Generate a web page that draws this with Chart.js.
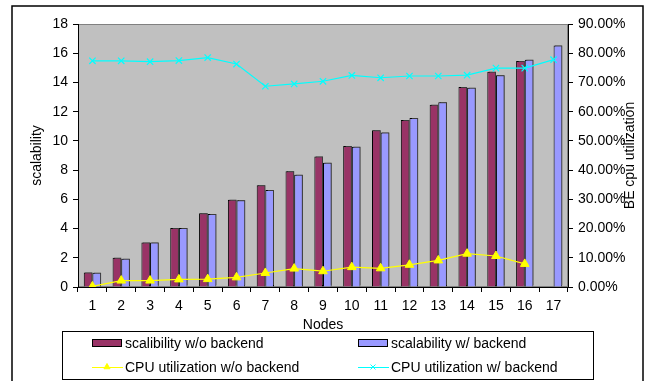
<!DOCTYPE html>
<html>
<head>
<meta charset="utf-8">
<script src="https://cdn.jsdelivr.net/npm/chart.js@4/dist/chart.umd.min.js"></script>
<style>
  html, body { margin: 0; padding: 0; background: #fff; }
  canvas { display: block; }
</style>
</head>
<body>
<canvas id="c" width="645" height="381"></canvas>
<script>
// Node counts along the x axis
const nodes = ['1','2','3','4','5','6','7','8','9','10','11','12','13','14','15','16','17'];

// Scalability (left axis)
const scalabilityWithout = [1.0, 2.0, 3.05, 4.03, 5.05, 5.97, 6.97, 7.93, 8.93, 9.65, 10.72, 11.43, 12.47, 13.68, 14.74, 15.46, null];
const scalabilityWith    = [0.98, 1.93, 3.05, 4.03, 5.0, 5.93, 6.64, 7.69, 8.5, 9.6, 10.58, 11.56, 12.65, 13.63, 14.49, 15.56, 16.52];

// BE CPU utilization in percent (right axis)
const cpuWithout = [0.2, 2.2, 2.2, 2.6, 2.7, 3.3, 4.8, 6.3, 5.4, 6.8, 6.4, 7.6, 9.1, 11.4, 10.6, 7.9, null];
const cpuWith    = [77.4, 77.4, 77.1, 77.5, 78.5, 76.3, 68.7, 69.5, 70.4, 72.4, 71.6, 72.2, 72.2, 72.5, 74.9, 74.9, 77.8];

// Axis tick values
const leftTicks  = [0, 2, 4, 6, 8, 10, 12, 14, 16, 18];
const rightTicks = [0, 10, 20, 30, 40, 50, 60, 70, 80, 90];

const seriesLabels = ['scalibility w/o backend', 'scalability w/ backend', 'CPU utilization w/o backend', 'CPU utilization w/ backend'];

const FONT = "'Liberation Sans', Arial, sans-serif";
const FONT_SIZE = 14;

// Background, plot fill, outer frame, axis titles and boxed legend
const decorPlugin = {
  id: 'decor',
  beforeDraw(chart) {
    const { ctx, chartArea: a } = chart;
    ctx.save();
    ctx.fillStyle = '#fff';
    ctx.fillRect(0, 0, chart.width, chart.height);
    ctx.fillStyle = '#C0C0C0';
    ctx.fillRect(a.left, a.top, a.right - a.left, a.bottom - a.top);
    ctx.strokeStyle = '#808080';
    ctx.lineWidth = 1;
    ctx.strokeRect(a.left + 0.5, a.top + 0.5, a.right - a.left - 1, a.bottom - a.top - 1);
    ctx.restore();
  },
  afterDraw(chart) {
    const { ctx, chartArea: a } = chart;
    ctx.save();
    // outer frame
    ctx.strokeStyle = '#000';
    ctx.lineWidth = 1.5;
    ctx.strokeRect(12, 6, 631, 380);

    ctx.fillStyle = '#000';
    ctx.font = FONT_SIZE + 'px ' + FONT;
    ctx.textAlign = 'center';
    ctx.textBaseline = 'middle';
    const midY = (a.top + a.bottom) / 2;
    // left axis title
    ctx.save();
    ctx.translate(37, midY);
    ctx.rotate(-Math.PI / 2);
    ctx.fillText('scalability', 0, 0);
    ctx.restore();
    // right axis title
    ctx.save();
    ctx.translate(630, midY);
    ctx.rotate(-Math.PI / 2);
    ctx.fillText('BE cpu utilization', 0, 0);
    ctx.restore();
    // x axis title
    ctx.fillText('Nodes', 323, 325);

    // legend box
    ctx.lineWidth = 1;
    ctx.strokeStyle = '#000';
    ctx.strokeRect(62.5, 331.5, 531, 48);
    const ds = chart.data.datasets;
    const cols = [92, 358];
    const rows = [343, 367];
    ctx.textAlign = 'left';
    ds.forEach((d, i) => {
      const x = cols[i % 2];
      const y = rows[Math.floor(i / 2)];
      if (d.type === 'bar') {
        ctx.fillStyle = d.backgroundColor;
        ctx.fillRect(x, y - 3, 30, 6);
        ctx.strokeStyle = '#000';
        ctx.strokeRect(x + 0.5, y - 3.5, 29, 7);
      } else {
        ctx.strokeStyle = d.borderColor;
        ctx.lineWidth = 1;
        ctx.beginPath();
        ctx.moveTo(x, y + 0.5);
        ctx.lineTo(x + 31, y + 0.5);
        ctx.stroke();
        ctx.fillStyle = d.pointBackgroundColor;
        ctx.strokeStyle = d.pointBorderColor;
        Chart.helpers.drawPoint(ctx, { pointStyle: d.pointStyle, radius: 3.5, borderWidth: 1 }, x + 15, y);
      }
      ctx.fillStyle = '#000';
      ctx.fillText(d.label, x + 33, y + 1);
    });
    ctx.restore();
  }
};

// Dark shadow behind the bars
const barShadowPlugin = {
  id: 'barShadow',
  beforeDatasetDraw(chart, args) {
    if (chart.data.datasets[args.index].type !== 'bar') return;
    const ctx = chart.ctx;
    ctx.save();
    ctx.shadowColor = 'rgba(70,70,70,0.85)';
    ctx.shadowOffsetX = 1.5;
    ctx.shadowOffsetY = -1.5;
    ctx.shadowBlur = 0;
  },
  afterDatasetDraw(chart, args) {
    if (chart.data.datasets[args.index].type !== 'bar') return;
    chart.ctx.restore();
  }
};

const tickFont = { family: FONT, size: FONT_SIZE };

new Chart(document.getElementById('c'), {
  data: {
    labels: nodes,
    datasets: [
      {
        type: 'bar', label: seriesLabels[0], data: scalabilityWithout, yAxisID: 'y',
        backgroundColor: '#993366', borderColor: '#000', borderWidth: 1, order: 2,
        categoryPercentage: 0.6, barPercentage: 1.0
      },
      {
        type: 'bar', label: seriesLabels[1], data: scalabilityWith, yAxisID: 'y',
        backgroundColor: '#9999FF', borderColor: '#000', borderWidth: 1, order: 2,
        categoryPercentage: 0.6, barPercentage: 1.0
      },
      {
        type: 'line', label: seriesLabels[2], data: cpuWithout, yAxisID: 'y2',
        borderColor: '#FFFF00', borderWidth: 1.2, pointStyle: 'triangle', pointRadius: 5,
        pointBackgroundColor: '#FFFF00', pointBorderColor: '#FFFF00', pointBorderWidth: 1,
        tension: 0, order: 1, spanGaps: false
      },
      {
        type: 'line', label: seriesLabels[3], data: cpuWith, yAxisID: 'y2',
        borderColor: '#00FFFF', borderWidth: 1.2, pointStyle: 'crossRot', pointRadius: 4.5,
        pointBackgroundColor: '#00FFFF', pointBorderColor: '#00FFFF', pointBorderWidth: 1.2,
        tension: 0, order: 1
      }
    ]
  },
  options: {
    responsive: false,
    animation: false,
    devicePixelRatio: 1,
    layout: { padding: { top: 24, left: 0, right: 0, bottom: 0 } },
    plugins: { legend: { display: false }, tooltip: { enabled: false } },
    scales: {
      x: {
        type: 'category',
        offset: true,
        grid: { offset: true, drawOnChartArea: false, drawTicks: true, tickLength: 5, color: '#000' },
        border: { color: '#000', width: 1 },
        ticks: { color: '#000', font: tickFont, padding: 6, maxRotation: 0, autoSkip: false },
        afterFit(s) { s.height = 94; }
      },
      y: {
        position: 'left',
        min: 0, max: 18,
        afterBuildTicks(s) { s.ticks = leftTicks.map(v => ({ value: v })); },
        grid: { drawOnChartArea: false, drawTicks: true, tickLength: 5, color: '#000' },
        border: { color: '#000', width: 1 },
        ticks: { color: '#000', font: tickFont, padding: 5 },
        afterFit(s) { s.width = 78; }
      },
      y2: {
        position: 'right',
        min: 0, max: 90,
        afterBuildTicks(s) { s.ticks = rightTicks.map(v => ({ value: v })); },
        grid: { drawOnChartArea: false, drawTicks: true, tickLength: 5, color: '#000' },
        border: { color: '#000', width: 1 },
        ticks: { color: '#000', font: tickFont, padding: 5,
                 callback: v => v.toFixed(2) + '%' },
        afterFit(s) { s.width = 77; }
      }
    }
  },
  plugins: [decorPlugin, barShadowPlugin]
});
</script>
</body>
</html>
